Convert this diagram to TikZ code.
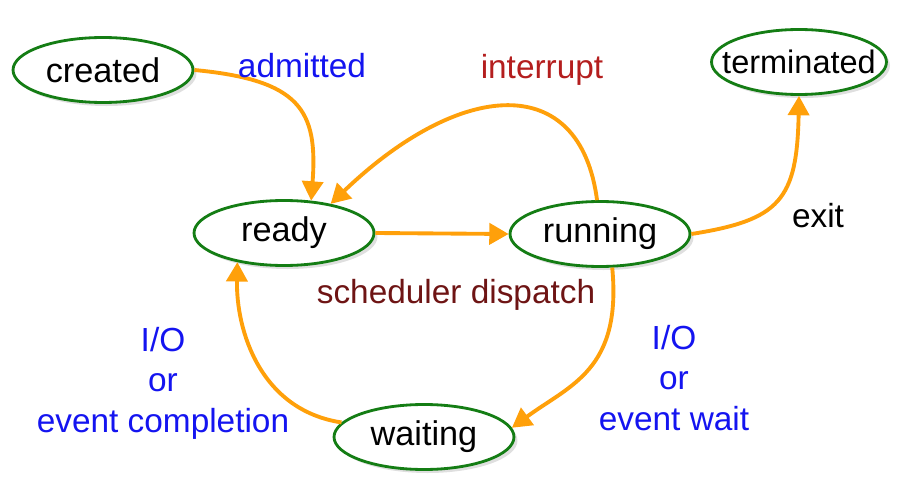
\documentclass[tikz,border=0pt]{standalone}
\usepackage{fontspec}
\setmainfont{Liberation Sans}
\usetikzlibrary{arrows.meta,shapes.geometric,shadows}
\definecolor{stgreen}{RGB}{20,125,20}
\definecolor{arrorange}{RGB}{255,160,10}
\definecolor{lblblue}{RGB}{20,20,240}
\definecolor{lblred}{RGB}{180,30,30}
\definecolor{lblmaroon}{RGB}{110,20,20}

\tikzset{
  state/.style={ellipse,draw=stgreen,line width=1.6pt,fill=white,
    minimum width=3.6cm,minimum height=1.3cm,inner sep=0pt,
    drop shadow={opacity=0.25,shadow xshift=2pt,shadow yshift=-2pt},
    font=\fontsize{19.5}{22}\selectfont},
  trans/.style={draw=arrorange,line width=2.2pt,
    -{Triangle[length=11pt,width=12pt]}},
  lbl/.style={font=\fontsize{19}{23}\selectfont,align=center}
}

\begin{document}
\begin{tikzpicture}[x=0.02cm,y=-0.02cm]
\useasboundingbox (0,0) rectangle (924,500);

% states
\node[state] (created) at (103,70) {created};
\node[state] (ready) at (284,233) {ready};
\node[state] (running) at (600,234) {running};
\node[state,minimum width=3.5cm,inner xsep=-9pt,font=\fontsize{18.5}{22}\selectfont] (terminated) at (799,62) {terminated};
\node[state] (waiting) at (424,437) {waiting};

% transitions
\draw[trans] (created.east) .. controls (300,80) and (318,110) .. (ready.50);
\draw[trans] (running.95) .. controls (580,70) and (460,80) .. (ready.32);
\draw[trans] (ready.east) -- (running.west);
\draw[trans] (running.east) .. controls (780,220) and (797,200) .. (terminated.south);
\draw[trans] (running.-70) .. controls (622,370) and (570,385) .. (waiting.6);
\draw[trans] (waiting.170) .. controls (260,410) and (236,330) .. (ready.-148);

% labels
\node[lbl,text=lblblue] (admit) at (302,66) {admitted};
\node[lbl,text=lblred] (intr) at (542,70) {interrupt};
\node[lbl,text=lblmaroon] (sched) at (456,295) {scheduler dispatch};
\node[lbl] (exitl) at (818,216) {exit};
\node[lbl,text=lblblue] (iowait) at (674,378) {I/O\\or\\event wait};
\node[lbl,text=lblblue] (iocomp) at (163,383) {I/O\\or\\event completion};
\end{tikzpicture}
\end{document}
